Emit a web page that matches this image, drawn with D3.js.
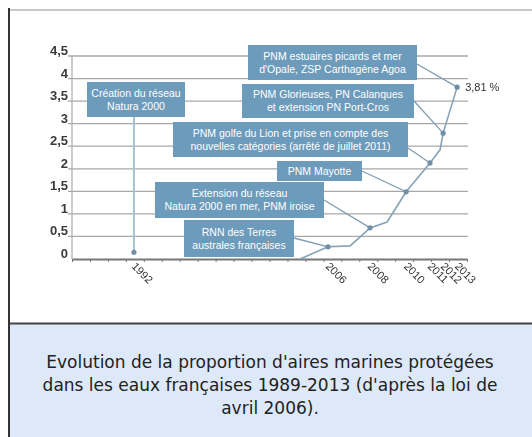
<!DOCTYPE html>
<html>
<head>
<meta charset="utf-8">
<script src="https://cdn.jsdelivr.net/npm/d3@7"></script>
<style>
  body { margin: 0; background: #fff; font-family: "Liberation Sans", Arial, sans-serif; }
</style>
</head>
<body>
<div id="chart"></div>
<script>
const width = 532;
const height = 437;

// y axis (share of French waters, %)
const yTicks = [0, 0.5, 1, 1.5, 2, 2.5, 3, 3.5, 4, 4.5];
const yLabels = ["0", "0,5", "1", "1,5", "2", "2,5", "3", "3,5", "4", "4,5"];

// the x axis of the picture has 22 small graduations (not one per year),
// positions below are read in those graduation units
const xGrads = d3.range(0, 23);

// drawn curve
const curveX = [12.7, 14.26, 15.49, 16.6, 17.55, 18.61, 19.94, 20.5, 20.67, 21.45];
const curveY = [0, 0.27, 0.29, 0.69, 0.82, 1.49, 2.13, 2.42, 2.79, 3.81];

// milestones
const years = ["1992", "2006", "2008", "2010", "2011", "2012", "2013"];
const yearX = [3.45, 14.26, 16.6, 18.61, 19.94, 20.67, 21.45];
const yearY = [0.15, 0.27, 0.69, 1.49, 2.13, 2.79, 3.81];
const notes = [
  ["Création du réseau", "Natura 2000"],
  ["RNN des Terres", "australes françaises"],
  ["Extension du réseau", "Natura 2000 en mer, PNM iroise"],
  ["PNM Mayotte"],
  ["PNM golfe du Lion et prise en compte des", "nouvelles catégories (arrêté de juillet 2011)"],
  ["PNM Glorieuses, PN Calanques", "et extension PN Port-Cros"],
  ["PNM estuaires picards et mer", "d'Opale, ZSP Carthagène Agoa"]
];
const lastLabel = "3,81 %";

const caption = [
  "Evolution de la proportion d'aires marines protégées",
  "dans les eaux françaises 1989-2013 (d'après la loi de",
  "avril 2006)."
];

// callout boxes layout [x, y, w, h, anchor-from-top]
const boxes = [
  [87, 82, 98, 35, null],
  [184, 220, 110, 37, 18],
  [155, 182, 169, 36, 18],
  [277, 161, 85, 20, 10],
  [173, 122, 235, 35, 26],
  [242, 84, 172, 34, 17],
  [248, 45, 169, 35, 19]
];

const svg = d3.select("#chart")
  .append("svg")
  .attr("width", width)
  .attr("height", height);

// frame
svg.append("rect")
  .attr("x", 9).attr("y", 324)
  .attr("width", width - 9).attr("height", height - 324)
  .attr("fill", "#dde9f9");
svg.append("line")
  .attr("x1", 8).attr("x2", width).attr("y1", 10).attr("y2", 10)
  .attr("stroke", "#c8c8c8").attr("stroke-width", 2);
svg.append("line")
  .attr("x1", 8).attr("x2", width).attr("y1", 323.5).attr("y2", 323.5)
  .attr("stroke", "#444").attr("stroke-width", 2);
svg.append("line")
  .attr("x1", 9).attr("x2", 9).attr("y1", 8).attr("y2", height)
  .attr("stroke", "#333").attr("stroke-width", 2);

svg.append("text")
  .attr("text-anchor", "middle")
  .attr("fill", "#222")
  .style("font-family", "'DejaVu Sans', sans-serif")
  .style("font-size", "17px")
  .selectAll("tspan")
  .data(caption)
  .join("tspan")
  .attr("x", 270)
  .attr("y", (d, i) => 368 + i * 23)
  .text(d => d);

// chart
const x = d3.scaleLinear().domain([0, 22]).range([72, 467]);
const y = d3.scaleLinear().domain([0, 4.5]).range([259, 56]);

const chart = svg.append("g")
  .style("filter", "blur(0.35px)");

// grid
chart.append("g")
  .selectAll("line")
  .data(yTicks.slice(1))
  .join("line")
  .attr("x1", 68).attr("x2", 468)
  .attr("y1", d => y(d)).attr("y2", d => y(d))
  .attr("stroke", "#a8a8a8").attr("stroke-width", 1.3);

// y axis
chart.append("line")
  .attr("x1", 72).attr("x2", 72).attr("y1", y(4.5)).attr("y2", y(0))
  .attr("stroke", "#aaa").attr("stroke-width", 1.2);

chart.append("g")
  .selectAll("text")
  .data(yTicks)
  .join("text")
  .attr("x", 68)
  .attr("y", d => y(d) - 1)
  .attr("text-anchor", "end")
  .attr("fill", "#3a3a3a")
  .style("font-size", "13px")
  .style("font-weight", "bold")
  .text((d, i) => yLabels[i]);

// x axis
const xAxis = chart.append("g")
  .attr("transform", `translate(0,${y(0)})`)
  .call(d3.axisBottom(x).tickValues(xGrads).tickFormat("").tickSize(3).tickSizeOuter(0));
xAxis.select(".domain").attr("stroke", "#777").attr("stroke-width", 2);
xAxis.selectAll(".tick line").attr("stroke", "#777");

chart.append("g")
  .selectAll("text")
  .data(years)
  .join("text")
  .attr("transform", (d, i) => `translate(${x(yearX[i]) - 3},${y(0) + 8}) rotate(45)`)
  .attr("fill", "#333")
  .style("font-size", "11px")
  .text(d => d);

// connectors
chart.append("line")
  .attr("x1", x(yearX[0])).attr("x2", x(yearX[0]))
  .attr("y1", boxes[0][1] + boxes[0][3]).attr("y2", y(yearY[0]))
  .attr("stroke", "#a4c2d8").attr("stroke-width", 2);

chart.append("g")
  .selectAll("line")
  .data(boxes.slice(1))
  .join("line")
  .attr("x1", d => d[0] + d[2])
  .attr("y1", d => d[1] + d[4])
  .attr("x2", (d, i) => x(yearX[i + 1]))
  .attr("y2", (d, i) => y(yearY[i + 1]))
  .attr("stroke", "#7f9cb1").attr("stroke-width", 1.3);

// curve
chart.append("path")
  .datum(curveX.map((v, i) => [v, curveY[i]]))
  .attr("fill", "none")
  .attr("stroke", "#86a2b6")
  .attr("stroke-width", 1.6)
  .attr("d", d3.line().x(d => x(d[0])).y(d => y(d[1])));

chart.append("g")
  .selectAll("circle")
  .data(years)
  .join("circle")
  .attr("cx", (d, i) => x(yearX[i]))
  .attr("cy", (d, i) => y(yearY[i]))
  .attr("r", 2.6)
  .attr("fill", "#6f8fa6");

// boxes
const box = chart.append("g")
  .selectAll("g")
  .data(notes)
  .join("g")
  .attr("transform", (d, i) => `translate(${boxes[i][0]},${boxes[i][1]})`);

box.append("rect")
  .attr("width", (d, i) => boxes[i][2])
  .attr("height", (d, i) => boxes[i][3])
  .attr("fill", "#6d9bbb");

box.append("text")
  .attr("text-anchor", "middle")
  .attr("fill", "#fff")
  .style("font-size", "10.5px")
  .each(function(d, i) {
    const b = boxes[i];
    const top = b[3] / 2 - (d.length - 1) * 6.5 + 3.7;
    d3.select(this).selectAll("tspan")
      .data(d)
      .join("tspan")
      .attr("x", b[2] / 2)
      .attr("y", (t, j) => top + j * 13)
      .text(t => t);
  });

chart.append("text")
  .attr("x", x(yearX[6]) + 8)
  .attr("y", y(yearY[6]) + 4)
  .attr("fill", "#333")
  .style("font-size", "11px")
  .text(lastLabel);
</script>
</body>
</html>
